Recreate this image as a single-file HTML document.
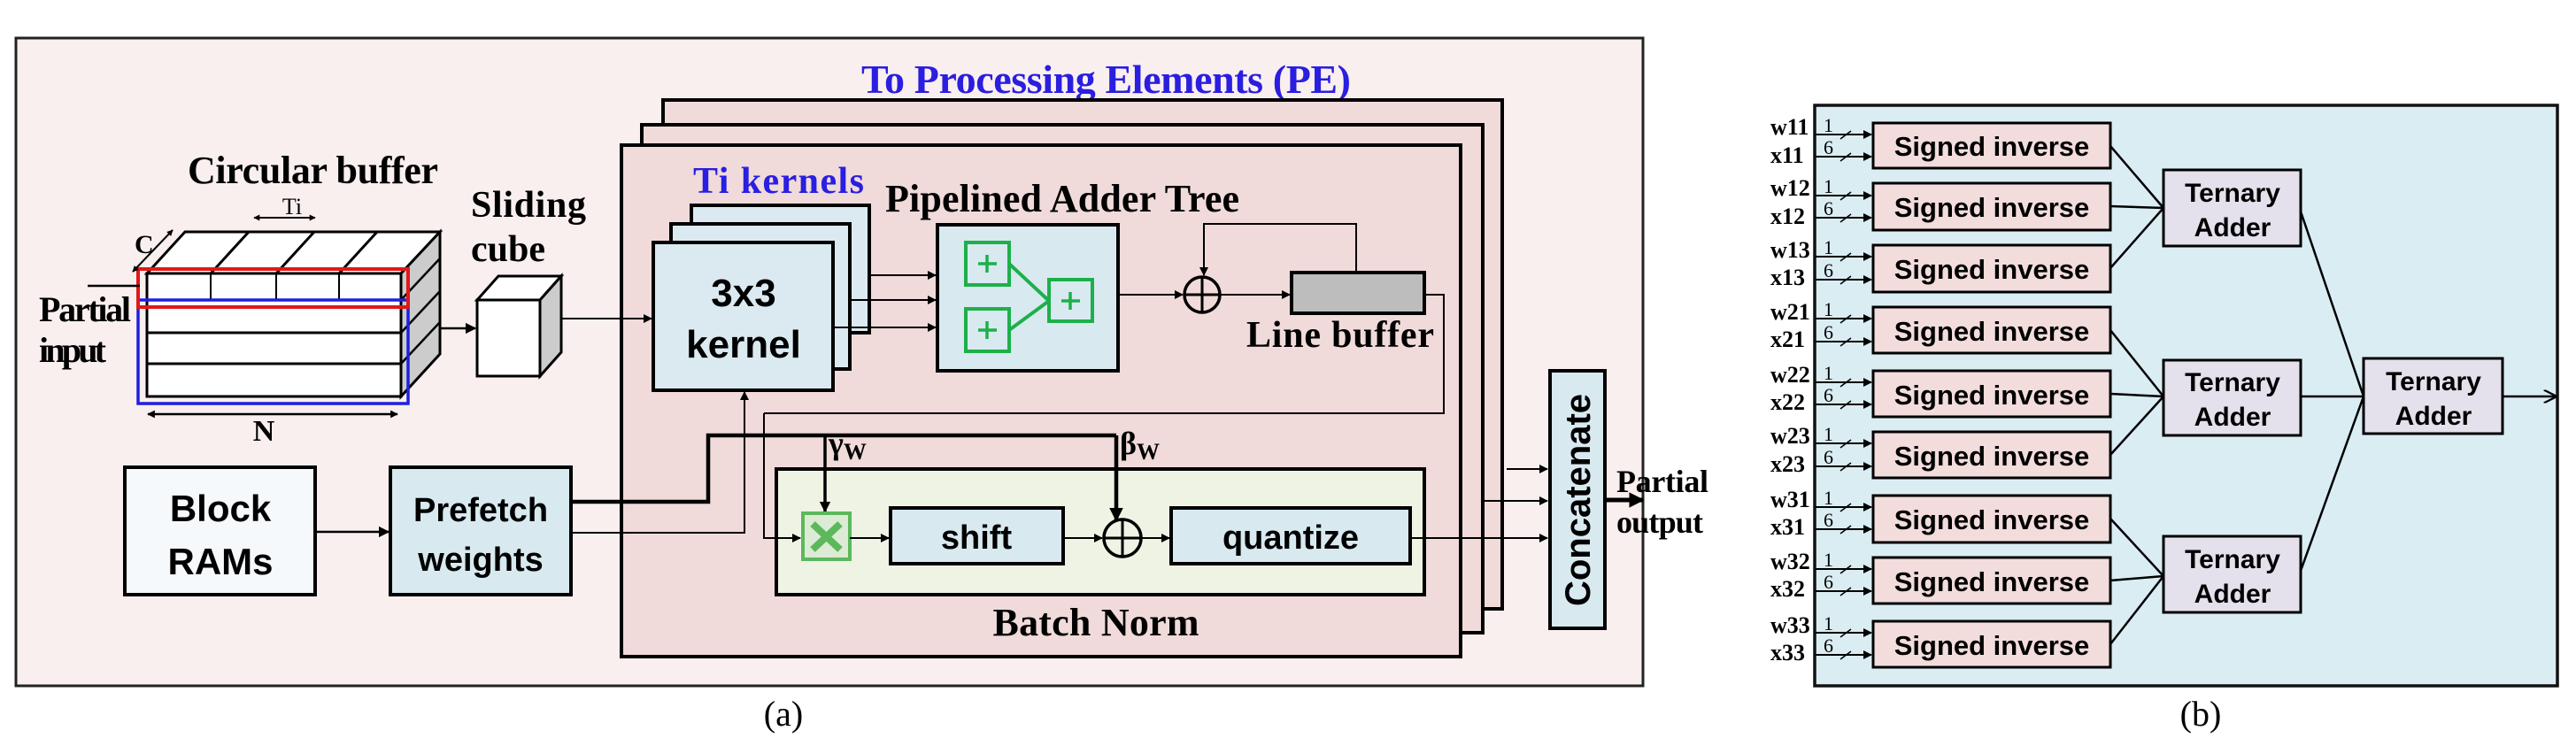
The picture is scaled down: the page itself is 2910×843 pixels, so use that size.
<!DOCTYPE html>
<html><head><meta charset="utf-8"><style>
html,body{margin:0;padding:0;background:#fff;}
svg{display:block}
.s{font-family:"Liberation Serif",serif;font-weight:bold}
.a{font-family:"Liberation Sans",sans-serif;font-weight:bold}
</style></head><body>
<svg width="2910" height="843" viewBox="0 0 2910 843" xmlns="http://www.w3.org/2000/svg">
<defs>
<marker id="ar" viewBox="0 0 10 10" refX="9" refY="5" markerWidth="5" markerHeight="5" orient="auto-start-reverse"><path d="M0,0 L10,5 L0,10 z" fill="#000"/></marker>
<marker id="ar2" viewBox="0 0 10 10" refX="9" refY="5" markerWidth="3.5" markerHeight="3.5" orient="auto-start-reverse"><path d="M0,0 L10,5 L0,10 z" fill="#000"/></marker>
<marker id="op" viewBox="0 0 10 10" refX="9" refY="5" markerWidth="6" markerHeight="6" orient="auto"><path d="M0,0 L10,5 L0,10" fill="none" stroke="#000" stroke-width="1.5"/></marker>
</defs>
<!-- Panel (a) -->
<rect x="18" y="43" width="1838" height="732" fill="#f9efef" stroke="#222" stroke-width="3"/>
<text x="973" y="105" class="s" font-size="46" fill="#2a1ee0" textLength="553">To Processing Elements (PE)</text>
<rect x="749" y="113" width="948" height="575" fill="#f0dada" stroke="#000" stroke-width="4"/>
<rect x="725" y="141" width="950" height="574" fill="#f0dada" stroke="#000" stroke-width="4"/>
<rect x="702" y="164" width="948" height="578" fill="#f0dada" stroke="#000" stroke-width="4"/>
<text x="783" y="218" class="s" font-size="42" fill="#2a1ee0" textLength="193">Ti kernels</text>
<rect x="781" y="232" width="201" height="144" fill="#dbeaf1" stroke="#000" stroke-width="4"/>
<rect x="758" y="253" width="202" height="164" fill="#dbeaf1" stroke="#000" stroke-width="4"/>
<rect x="738" y="274" width="203" height="167" fill="#dbeaf1" stroke="#000" stroke-width="4"/>
<text x="840" y="346" class="a" font-size="44" text-anchor="middle">3x3</text>
<text x="840" y="404" class="a" font-size="44" text-anchor="middle">kernel</text>
<text x="212" y="207" class="s" font-size="44" textLength="283">Circular buffer</text>
<line x1="287" y1="246" x2="356" y2="246" stroke="#000" stroke-width="2" marker-start="url(#ar2)" marker-end="url(#ar2)"/>
<text x="330" y="242" font-family="Liberation Serif,serif" font-size="26" text-anchor="middle">Ti</text>
<polygon points="166,309 209,262 497,262 453,309" fill="#fff" stroke="#000" stroke-width="3"/>
<line x1="238" y1="309" x2="281" y2="262" stroke="#000" stroke-width="3"/>
<line x1="312" y1="309" x2="355" y2="262" stroke="#000" stroke-width="3"/>
<line x1="383" y1="309" x2="426" y2="262" stroke="#000" stroke-width="3"/>
<polygon points="453,309 497,262 497,400 453,448" fill="#ccc" stroke="#000" stroke-width="3"/>
<line x1="453" y1="339" x2="497" y2="292" stroke="#000" stroke-width="2.5"/>
<line x1="453" y1="376" x2="497" y2="329" stroke="#000" stroke-width="2.5"/>
<line x1="453" y1="411" x2="497" y2="364" stroke="#000" stroke-width="2.5"/>
<rect x="166" y="309" width="287" height="139" fill="#fff" stroke="#000" stroke-width="3"/>
<line x1="166" y1="339" x2="453" y2="339" stroke="#000" stroke-width="3"/>
<line x1="166" y1="376" x2="453" y2="376" stroke="#000" stroke-width="3"/>
<line x1="166" y1="411" x2="453" y2="411" stroke="#000" stroke-width="3"/>
<line x1="238" y1="309" x2="238" y2="339" stroke="#000" stroke-width="2"/>
<line x1="312" y1="309" x2="312" y2="339" stroke="#000" stroke-width="2"/>
<line x1="383" y1="309" x2="383" y2="339" stroke="#000" stroke-width="2"/>
<rect x="156" y="339" width="305" height="117" fill="none" stroke="#1f1fe0" stroke-width="3.5"/>
<rect x="156" y="304" width="305" height="43" fill="none" stroke="#e01818" stroke-width="4"/>
<line x1="150" y1="307" x2="195" y2="260" stroke="#000" stroke-width="2" marker-start="url(#ar2)" marker-end="url(#ar2)"/>
<text x="152" y="286" class="s" font-size="30">C</text>
<text x="44" y="363" class="s" font-size="40" textLength="104">Partial</text>
<text x="44" y="409" class="s" font-size="40" textLength="76">input</text>
<line x1="99" y1="323" x2="158" y2="323" stroke="#000" stroke-width="2.5"/>
<line x1="167" y1="468" x2="449" y2="468" stroke="#000" stroke-width="2.5" marker-start="url(#ar2)" marker-end="url(#ar2)"/>
<text x="298" y="498" class="s" font-size="34" text-anchor="middle">N</text>
<line x1="497" y1="371" x2="537" y2="371" stroke="#000" stroke-width="2.5" marker-end="url(#ar)"/>
<text x="532" y="245" class="s" font-size="42" textLength="130">Sliding</text>
<text x="532" y="295" class="s" font-size="42">cube</text>
<polygon points="539,339 563,312 634,312 610,339" fill="#fff" stroke="#000" stroke-width="3"/>
<polygon points="610,339 634,312 634,398 610,425" fill="#ccc" stroke="#000" stroke-width="3"/>
<rect x="539" y="339" width="71" height="86" fill="#fff" stroke="#000" stroke-width="3"/>
<line x1="634" y1="360" x2="736" y2="360" stroke="#000" stroke-width="2" marker-end="url(#ar)"/>
<rect x="141" y="528" width="215" height="144" fill="#f5f9fc" stroke="#000" stroke-width="4"/>
<text x="249" y="589" class="a" font-size="42" text-anchor="middle">Block</text>
<text x="249" y="649" class="a" font-size="42" text-anchor="middle">RAMs</text>
<rect x="441" y="528" width="204" height="144" fill="#d8e9f0" stroke="#000" stroke-width="4"/>
<text x="543" y="589" class="a" font-size="38" text-anchor="middle">Prefetch</text>
<text x="543" y="645" class="a" font-size="38" text-anchor="middle">weights</text>
<line x1="356" y1="601" x2="439" y2="601" stroke="#000" stroke-width="2.5" marker-end="url(#ar)"/>
<polyline points="645,567 800,567 800,492 1261,492" fill="none" stroke="#000" stroke-width="4.5"/>
<polyline points="645,602 841,602 841,443" fill="none" stroke="#000" stroke-width="2" marker-end="url(#ar)"/>
<text x="936" y="513" class="s" font-size="36">γ<tspan font-size="26" dy="6">W</tspan></text>
<text x="1265" y="513" class="s" font-size="36">β<tspan font-size="26" dy="6">W</tspan></text>
<text x="1000" y="239" class="s" font-size="44" textLength="400">Pipelined Adder Tree</text>
<line x1="982" y1="311" x2="1057" y2="311" stroke="#000" stroke-width="2" marker-end="url(#ar)"/>
<line x1="960" y1="339" x2="1057" y2="339" stroke="#000" stroke-width="2" marker-end="url(#ar)"/>
<line x1="941" y1="370" x2="1057" y2="370" stroke="#000" stroke-width="2" marker-end="url(#ar)"/>
<rect x="1059" y="254" width="204" height="165" fill="#d8e9f0" stroke="#000" stroke-width="4"/>
<g stroke="#1db04a" stroke-width="4" fill="none">
<rect x="1091" y="274" width="49" height="48"/><rect x="1091" y="349" width="49" height="48"/><rect x="1185" y="316" width="49" height="47"/>
<line x1="1140" y1="298" x2="1185" y2="340"/><line x1="1140" y1="373" x2="1185" y2="340"/>
<path d="M1105 298h21M1115 288v20M1105 373h21M1115 363v20M1199 340h21M1209 330v20" stroke-width="3.5"/>
</g>
<line x1="1263" y1="333" x2="1336" y2="333" stroke="#000" stroke-width="2" marker-end="url(#ar)"/>
<circle cx="1358" cy="333" r="20" fill="none" stroke="#000" stroke-width="3.5"/>
<path d="M1338 333h40M1358 313v40" stroke="#000" stroke-width="3"/>
<line x1="1378" y1="333" x2="1457" y2="333" stroke="#000" stroke-width="2" marker-end="url(#ar)"/>
<polyline points="1532,308 1532,253 1360,253 1360,311" fill="none" stroke="#000" stroke-width="2" marker-end="url(#ar)"/>
<rect x="1459" y="308" width="150" height="46" fill="#bdbdbd" stroke="#000" stroke-width="4"/>
<text x="1514" y="392" class="s" font-size="42" text-anchor="middle" textLength="212">Line buffer</text>
<polyline points="1609,333 1631,333 1631,467 863,467" fill="none" stroke="#000" stroke-width="2"/>
<rect x="877" y="530" width="732" height="142" fill="#eef3e4" stroke="#000" stroke-width="4"/>
<polyline points="863,467 863,608 904,608" fill="none" stroke="#000" stroke-width="2" marker-end="url(#ar)"/>
<line x1="932" y1="492" x2="932" y2="578" stroke="#000" stroke-width="3.5" marker-end="url(#ar2)"/>
<line x1="1261" y1="492" x2="1261" y2="588" stroke="#000" stroke-width="4.5" marker-end="url(#ar2)"/>
<rect x="907" y="580" width="53" height="52" fill="#dcebd3" stroke="#5cb85c" stroke-width="4"/>
<path d="M918 592l31 29M949 592l-31 29" stroke="#5cb85c" stroke-width="8"/>
<line x1="960" y1="608" x2="1004" y2="608" stroke="#000" stroke-width="2" marker-end="url(#ar)"/>
<rect x="1006" y="574" width="195" height="63" fill="#d8e9f0" stroke="#000" stroke-width="4"/>
<text x="1103" y="620" class="a" font-size="38" text-anchor="middle">shift</text>
<line x1="1201" y1="608" x2="1245" y2="608" stroke="#000" stroke-width="2" marker-end="url(#ar)"/>
<circle cx="1268" cy="608" r="21" fill="none" stroke="#000" stroke-width="3.5"/>
<path d="M1247 608h42M1268 587v42" stroke="#000" stroke-width="3"/>
<line x1="1289" y1="608" x2="1321" y2="608" stroke="#000" stroke-width="2" marker-end="url(#ar)"/>
<rect x="1323" y="574" width="270" height="63" fill="#d8e9f0" stroke="#000" stroke-width="4"/>
<text x="1458" y="620" class="a" font-size="38" text-anchor="middle">quantize</text>
<text x="1238" y="718" class="s" font-size="44" text-anchor="middle" textLength="233">Batch Norm</text>
<line x1="1593" y1="608" x2="1748" y2="608" stroke="#000" stroke-width="2" marker-end="url(#ar)"/>
<line x1="1676" y1="566" x2="1748" y2="566" stroke="#000" stroke-width="2" marker-end="url(#ar)"/>
<line x1="1702" y1="530" x2="1748" y2="530" stroke="#000" stroke-width="2" marker-end="url(#ar)"/>
<rect x="1751" y="419" width="62" height="291" fill="#d8e9f0" stroke="#000" stroke-width="4"/>
<text x="0" y="0" class="a" font-size="40" text-anchor="middle" transform="translate(1796,565) rotate(-90)">Concatenate</text>
<line x1="1813" y1="565" x2="1856" y2="565" stroke="#000" stroke-width="5" marker-end="url(#ar2)"/>
<text x="1826" y="556" class="s" font-size="36" textLength="104">Partial</text>
<text x="1826" y="602" class="s" font-size="36" textLength="98">output</text>
<text x="885" y="820" font-family="Liberation Serif,serif" font-size="40" text-anchor="middle">(a)</text>

<!-- Panel (b) -->
<rect x="2050" y="119" width="839" height="656" fill="#daedf3" stroke="#111" stroke-width="3.5"/>
<g stroke="#000" stroke-width="2.5">
<line x1="2384" y1="165" x2="2444" y2="235"/><line x1="2384" y1="233" x2="2444" y2="235"/><line x1="2384" y1="303" x2="2444" y2="235"/>
<line x1="2384" y1="373" x2="2444" y2="448"/><line x1="2384" y1="445" x2="2444" y2="448"/><line x1="2384" y1="514" x2="2444" y2="448"/>
<line x1="2384" y1="586" x2="2444" y2="651"/><line x1="2384" y1="656" x2="2444" y2="651"/><line x1="2384" y1="728" x2="2444" y2="651"/>
<line x1="2599" y1="239" x2="2670" y2="448"/><line x1="2599" y1="448" x2="2670" y2="448"/><line x1="2599" y1="645" x2="2670" y2="448"/>
<line x1="2827" y1="448" x2="2887" y2="448" marker-end="url(#op)"/>
</g>
<g fill="#e4e0ec" stroke="#000" stroke-width="3">
<rect x="2444" y="192" width="155" height="86"/><rect x="2444" y="407" width="155" height="85"/><rect x="2444" y="606" width="155" height="86"/><rect x="2670" y="405" width="157" height="85"/>
</g>
<g class="a" font-size="30" text-anchor="middle">
<text x="2522" y="228">Ternary</text><text x="2522" y="267">Adder</text>
<text x="2522" y="442">Ternary</text><text x="2522" y="481">Adder</text>
<text x="2522" y="642">Ternary</text><text x="2522" y="681">Adder</text>
<text x="2749" y="441">Ternary</text><text x="2749" y="480">Adder</text>
</g>
<g fill="#f2dcdc" stroke="#000" stroke-width="3">
<rect x="2116" y="139" width="268" height="51"/><rect x="2116" y="207" width="268" height="53"/><rect x="2116" y="277" width="268" height="53"/>
<rect x="2116" y="347" width="268" height="52"/><rect x="2116" y="419" width="268" height="52"/><rect x="2116" y="488" width="268" height="52"/>
<rect x="2116" y="560" width="268" height="53"/><rect x="2116" y="630" width="268" height="52"/><rect x="2116" y="702" width="268" height="52"/>
</g>
<g class="a" font-size="31" text-anchor="middle">
<text x="2250" y="176">Signed inverse</text><text x="2250" y="245">Signed inverse</text><text x="2250" y="315">Signed inverse</text>
<text x="2250" y="385">Signed inverse</text><text x="2250" y="457">Signed inverse</text><text x="2250" y="526">Signed inverse</text>
<text x="2250" y="598">Signed inverse</text><text x="2250" y="668">Signed inverse</text><text x="2250" y="740">Signed inverse</text>
</g>
<g stroke="#000" stroke-width="2">
<line x1="2051" y1="152" x2="2114" y2="152" marker-end="url(#ar)"/><line x1="2051" y1="177" x2="2114" y2="177" marker-end="url(#ar)"/>
<line x1="2051" y1="221" x2="2114" y2="221" marker-end="url(#ar)"/><line x1="2051" y1="246" x2="2114" y2="246" marker-end="url(#ar)"/>
<line x1="2051" y1="290" x2="2114" y2="290" marker-end="url(#ar)"/><line x1="2051" y1="316" x2="2114" y2="316" marker-end="url(#ar)"/>
<line x1="2051" y1="360" x2="2114" y2="360" marker-end="url(#ar)"/><line x1="2051" y1="386" x2="2114" y2="386" marker-end="url(#ar)"/>
<line x1="2051" y1="432" x2="2114" y2="432" marker-end="url(#ar)"/><line x1="2051" y1="457" x2="2114" y2="457" marker-end="url(#ar)"/>
<line x1="2051" y1="501" x2="2114" y2="501" marker-end="url(#ar)"/><line x1="2051" y1="527" x2="2114" y2="527" marker-end="url(#ar)"/>
<line x1="2051" y1="573" x2="2114" y2="573" marker-end="url(#ar)"/><line x1="2051" y1="598" x2="2114" y2="598" marker-end="url(#ar)"/>
<line x1="2051" y1="643" x2="2114" y2="643" marker-end="url(#ar)"/><line x1="2051" y1="668" x2="2114" y2="668" marker-end="url(#ar)"/>
<line x1="2051" y1="715" x2="2114" y2="715" marker-end="url(#ar)"/><line x1="2051" y1="740" x2="2114" y2="740" marker-end="url(#ar)"/>
</g>
<g stroke="#000" stroke-width="1.5">
<path d="M2079 157l12-9M2079 182l12-9M2079 226l12-9M2079 251l12-9M2079 295l12-9M2079 321l12-9M2079 365l12-9M2079 391l12-9M2079 437l12-9M2079 462l12-9M2079 506l12-9M2079 532l12-9M2079 578l12-9M2079 603l12-9M2079 648l12-9M2079 673l12-9M2079 720l12-9M2079 745l12-9"/>
</g>
<g font-family="Liberation Serif,serif" font-size="22">
<text x="2060" y="149">1</text><text x="2060" y="174">6</text><text x="2060" y="218">1</text><text x="2060" y="243">6</text>
<text x="2060" y="287">1</text><text x="2060" y="313">6</text><text x="2060" y="357">1</text><text x="2060" y="383">6</text>
<text x="2060" y="429">1</text><text x="2060" y="454">6</text><text x="2060" y="498">1</text><text x="2060" y="524">6</text>
<text x="2060" y="570">1</text><text x="2060" y="595">6</text><text x="2060" y="640">1</text><text x="2060" y="665">6</text>
<text x="2060" y="712">1</text><text x="2060" y="737">6</text>
</g>
<g class="s" font-size="26">
<text x="2000" y="152">w11</text><text x="2000" y="184">x11</text>
<text x="2000" y="221">w12</text><text x="2000" y="253">x12</text>
<text x="2000" y="291">w13</text><text x="2000" y="322">x13</text>
<text x="2000" y="361">w21</text><text x="2000" y="392">x21</text>
<text x="2000" y="432">w22</text><text x="2000" y="463">x22</text>
<text x="2000" y="501">w23</text><text x="2000" y="533">x23</text>
<text x="2000" y="573">w31</text><text x="2000" y="604">x31</text>
<text x="2000" y="643">w32</text><text x="2000" y="674">x32</text>
<text x="2000" y="715">w33</text><text x="2000" y="746">x33</text>
</g>
<text x="2486" y="820" font-family="Liberation Serif,serif" font-size="40" text-anchor="middle">(b)</text>
</svg>
</body></html>
